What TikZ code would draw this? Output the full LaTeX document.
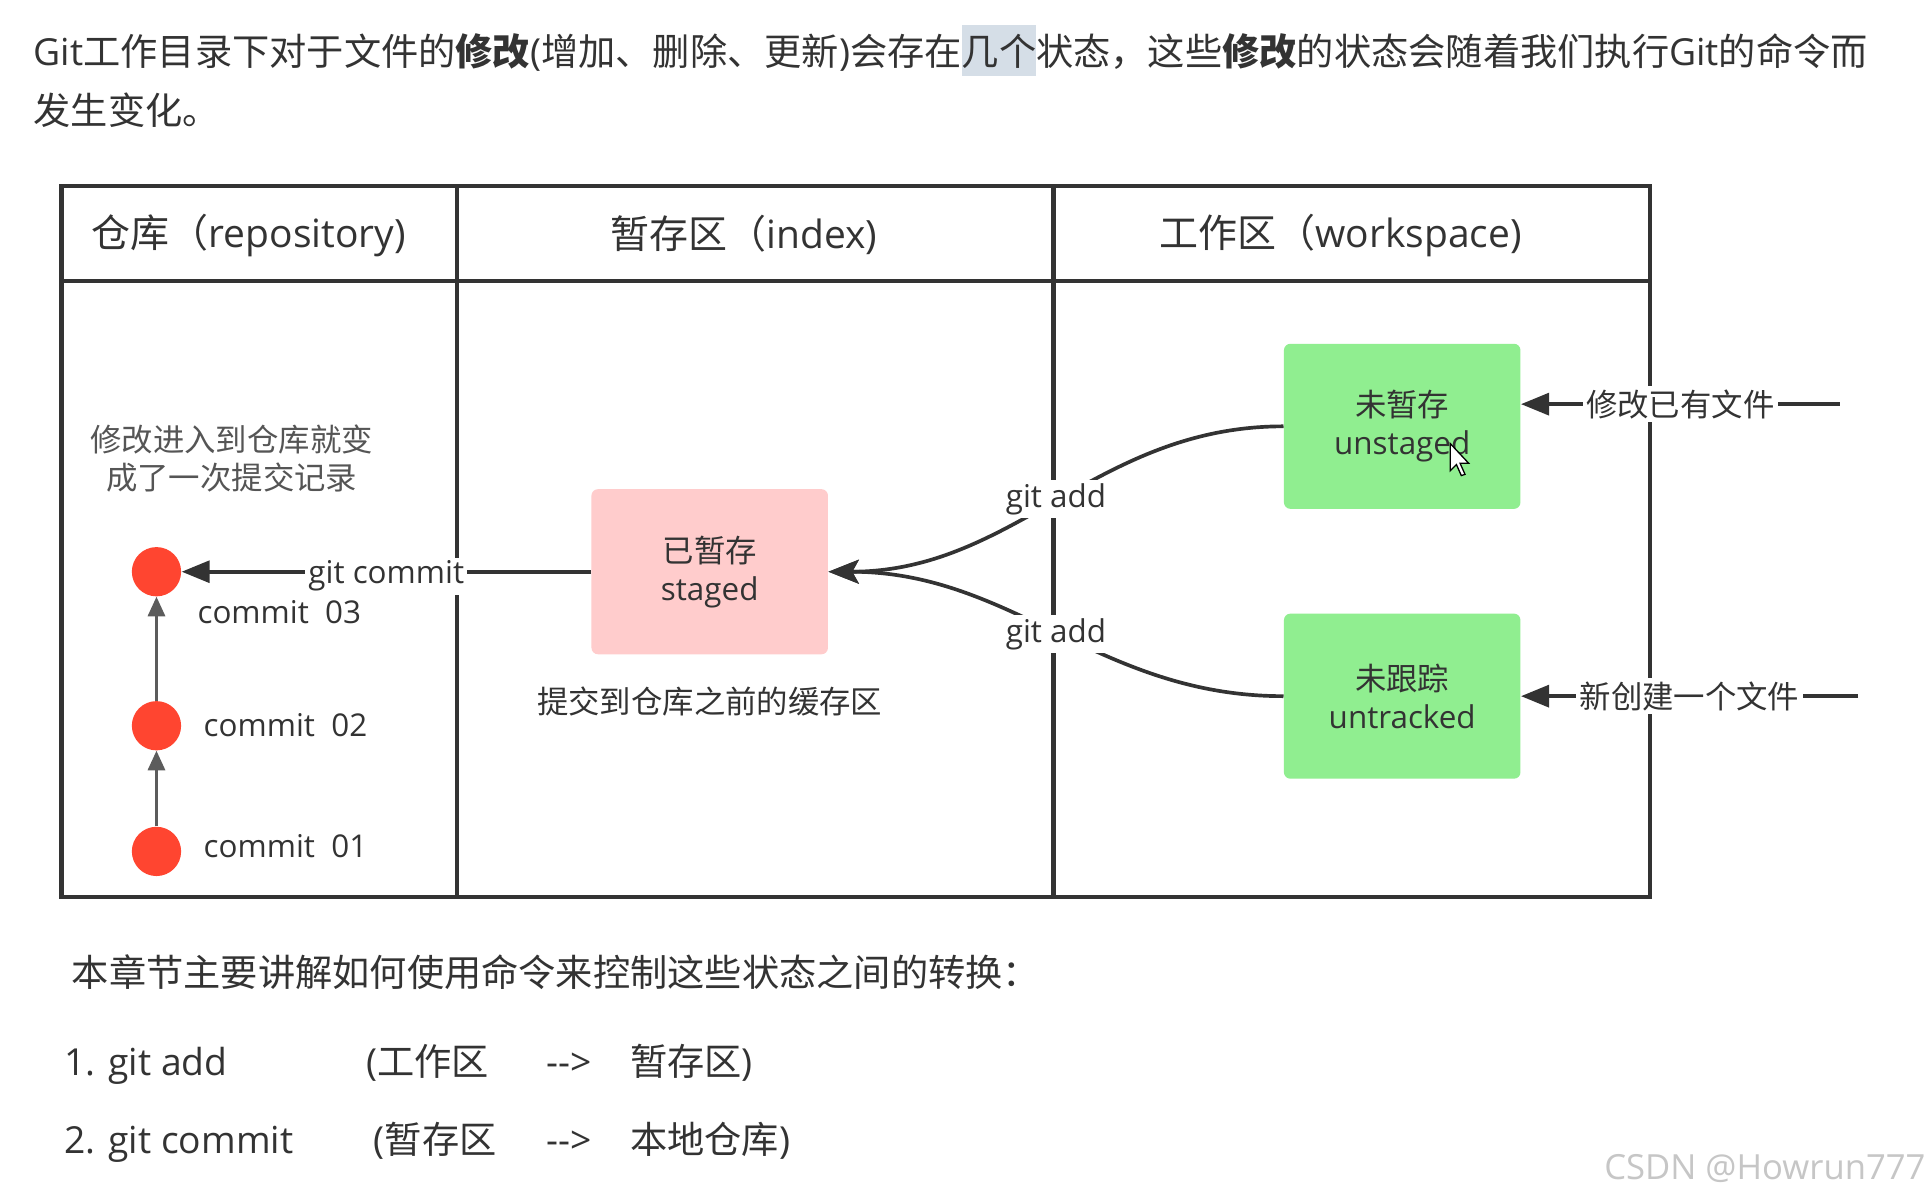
\documentclass[tikz,border=0pt]{standalone}
\usepackage{fontspec}
\setmainfont{Open Sans}
\newfontfamily\cjk{Noto Sans CJK SC}
\usepackage{xcolor}
\usepackage{tikz}
\usetikzlibrary{arrows.meta,positioning}

\definecolor{ink}{HTML}{333333}
\definecolor{note}{HTML}{555555}
\definecolor{selgray}{HTML}{D5DEE7}
\definecolor{stagedpink}{HTML}{FFCCCC}
\definecolor{statusgreen}{HTML}{90EE90}
\definecolor{commitred}{HTML}{FF4530}

\newcommand\zh[1]{{\cjk #1}}
\newcommand\bodysize{\fontsize{17.2}{20}\selectfont}
\newcommand\headsize{\fontsize{18}{22}\selectfont}
\newcommand\smallsize{\fontsize{14.5}{17.6}\selectfont}
\newcommand\selmark[1]{{\fboxsep=0pt\colorbox{selgray}{\rule[-5pt]{0pt}{23.8pt}#1}}}

\begin{document}
\begin{tikzpicture}[x=0.02cm,y=-0.02cm,
  frame/.style={draw=ink,line width=2pt},
  statebox/.style={rounded corners=3pt,minimum width=3.84cm,minimum height=2.68cm,align=center,text=ink,font=\smallsize},
  commitdot/.style={circle,fill=commitred,minimum size=0.8cm,inner sep=0pt},
  link/.style={draw=ink,line width=2pt,-{Triangle[length=13pt,width=10pt]}},
  addlink/.style={draw=ink,line width=1.7pt,-{Stealth[length=14pt,width=11pt,inset=3pt]}},
  parent/.style={draw=ink!80,line width=1pt,-{Triangle[length=9pt,width=8pt]}},
  cut/.style={fill=white,inner sep=1.5pt,text=ink,font=\smallsize},
  txt/.style={anchor=base west,inner sep=0pt,text=ink,font=\bodysize}]
  \fill[white] (0,0) rectangle (1568,970.6);
  \useasboundingbox (0,0) rectangle (1568,970.6);
  % 上方说明文字
  \node[txt] (introA) at (27,53) {Git\zh{工作目录下对于文件的\textbf{修改}}(\zh{增加、删除、更新})\zh{会存在\selmark{几个}状态，这些\textbf{修改}的状态会随着我们执行}Git\zh{的命令而}};
  \node[txt] (introB) at (27,101) {\zh{发生变化。}};
  % 三栏表格
  \draw[frame] (50,151) rectangle (1339,728);
  \draw[frame] (50,228) -- (1339,228);
  \draw[frame] (371,151) -- (371,728);
  \draw[frame] (855,151) -- (855,728);
  \node[text=ink,font=\headsize] (repoHead) at (202,191) {\zh{仓库（}repository)};
  \node[text=ink,font=\headsize] (indexHead) at (604,191) {\zh{暂存区（}index)};
  \node[text=ink,font=\headsize] (wsHead) at (1088,191) {\zh{工作区（}workspace)};
  % 仓库: 提交记录
  \node[align=center,text=note,font=\cjk\smallsize] (repoNote) at (188,372) {修改进入到仓库就变\\成了一次提交记录};
  \node[commitdot] (c3) at (127,464) {};
  \node[commitdot] (c2) at (127,589) {};
  \node[commitdot] (c1) at (127,691) {};
  \draw[parent] (c1) -- (c2);
  \draw[parent] (c2) -- (c3);
  \node[txt,font=\smallsize] (c3Lbl) at (160,506) {commit\ \ 03};
  \node[txt,font=\smallsize] (c2Lbl) at (165,598) {commit\ \ 02};
  \node[txt,font=\smallsize] (c1Lbl) at (165,696) {commit\ \ 01};
  % 暂存区
  \node[statebox,fill=stagedpink] (stg) at (576,464) {\zh{已暂存}\\staged};
  \node[text=ink,font=\cjk\smallsize,below=0.4cm of stg] (stgNote) {提交到仓库之前的缓存区};
  \draw[link] (stg) -- (c3) node[midway,cut,yshift=-2pt]{git commit};
  % 工作区
  \node[statebox,fill=statusgreen] (uns) at (1138,346) {\zh{未暂存}\\unstaged};
  \node[statebox,fill=statusgreen] (unt) at (1138,565) {\zh{未跟踪}\\untracked};
  \draw[addlink] (uns.west) to[out=180,in=0] node[cut]{git add} (stg.east);
  \draw[addlink] (unt.west) to[out=180,in=0] node[cut]{git add} (stg.east);
  \coordinate (modFile) at (1493,328);
  \coordinate (newFile) at (1508,565);
  \draw[link] (modFile) -- (modFile -| uns.east) node[midway,cut,font=\cjk\smallsize]{修改已有文件};
  \draw[link] (newFile) -- (newFile -| unt.east) node[midway,cut,font=\cjk\smallsize]{新创建一个文件};
  % 鼠标指针
  \draw[fill=white,line width=0.6pt,shift={(1177,360)}] (0,0) -- (0,22) -- (5,17) -- (9,26) -- (12,25) -- (8,16) -- (15,16) -- cycle;
  % 下方说明
  \node[txt] (summary) at (58,801) {\zh{本章节主要讲解如何使用命令来控制这些状态之间的转换：}};
  \node[txt] (addItem) at (52,873) {1. git add};
  \node[txt] (addFrom) at (297,873) {(\zh{工作区}};
  \node[txt] (addArrow) at (443,873) {-{}->};
  \node[txt] (addTo) at (511,873) {\zh{暂存区})};
  \node[txt] (ciItem) at (52,936) {2. git commit};
  \node[txt] (ciFrom) at (303,936) {(\zh{暂存区}};
  \node[txt] (ciArrow) at (443,936) {-{}->};
  \node[txt] (ciTo) at (511,936) {\zh{本地仓库})};
  \node[anchor=base east,inner sep=0pt,text=gray!45,font=\fontsize{16}{19}\selectfont] (mark) at (1563,957) {CSDN @Howrun777};
\end{tikzpicture}
\end{document}
